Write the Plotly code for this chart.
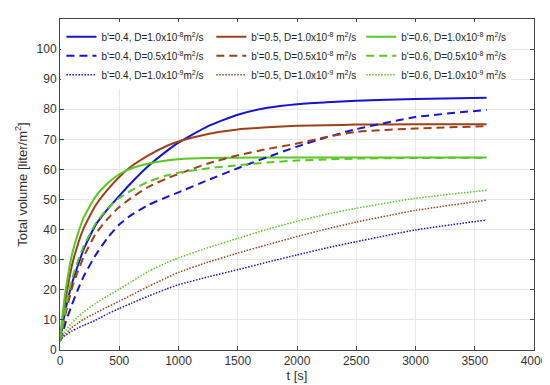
import plotly.graph_objects as go

t = [0, 25, 50, 100, 150, 200, 300, 400, 500, 600, 750, 900, 1000,
     1250, 1500, 1750, 2000, 2250, 2500, 3000, 3600]

# b'=0.4
v04_d1e8 = [3, 9, 14, 22, 28, 33.5, 41.5, 46.7, 51.2, 55.5, 61.3, 66.1, 68.9,
            74.4, 78.2, 80.5, 81.7, 82.3, 82.8, 83.4, 83.8]
v04_d05e8 = [3, 6, 9.5, 15, 20, 24.5, 31.5, 37.2, 41.7, 44.8, 48.3, 50.8, 52.4,
             56.5, 60.4, 64.1, 67.6, 70.7, 73.4, 77.4, 79.8]
v04_d1e9 = [3, 4.3, 5, 6.3, 7.3, 8.2, 9.9, 12, 13.8, 15.5, 18, 20.3, 21.7,
            24.3, 26.7, 29.2, 31.6, 33.9, 36, 39.9, 43.2]
# b'=0.5
v05_d1e8 = [3, 11, 17.5, 28, 35, 40.5, 48, 53.2, 57.5, 61, 64.8, 67.8, 69.3,
            71.8, 73.3, 74.0, 74.5, 74.7, 74.9, 75, 75]
v05_d05e8 = [3, 8, 12.5, 20.5, 26, 31, 38.5, 43.5, 47.5, 50.5, 54.3, 57, 58.5,
             62, 64.7, 66.8, 68.6, 70.8, 72.5, 73.6, 74.4]
v05_d1e9 = [3, 4.6, 5.5, 7.5, 8.9, 10.2, 12.3, 14.3, 16.2, 18.2, 21.2, 24, 25.8,
            29.2, 32.2, 35.0, 37.7, 40.2, 42.5, 46.4, 49.8]
# b'=0.6
v06_d1e8 = [3, 13, 20.5, 31.5, 38.5, 44, 51, 55.3, 58.4, 60.3, 62, 63, 63.4,
            63.8, 63.9, 64, 64, 64, 64, 64, 64]
v06_d05e8 = [3, 9, 14.5, 23.5, 29.5, 34.5, 42, 47, 50.5, 53, 56, 58, 58.9,
             60.4, 61.4, 62.3, 63, 63.3, 63.6, 63.8, 63.9]
v06_d1e9 = [3, 5, 6.5, 9, 11, 12.7, 15.5, 17.9, 20.2, 22.6, 26.2, 29, 30.6,
            34, 37.1, 40.1, 42.8, 45.1, 47.1, 50.4, 53.1]

names = {
    "04_1": "b'=0.4, D=1.0x10<sup>-8</sup>m<sup>2</sup>/s",
    "05_1": "b'=0.5, D=1.0x10<sup>-8</sup> m<sup>2</sup>/s",
    "06_1": "b'=0.6, D=1.0x10<sup>-8</sup> m<sup>2</sup>/s",
    "04_2": "b'=0.4, D=0.5x10<sup>-8</sup>m<sup>2</sup>/s",
    "05_2": "b'=0.5, D=0.5x10<sup>-8</sup> m<sup>2</sup>/s",
    "06_2": "b'=0.6, D=0.5x10<sup>-8</sup> m<sup>2</sup>/s",
    "04_3": "b'=0.4, D=1.0x10<sup>-9</sup>m<sup>2</sup>/s",
    "05_3": "b'=0.5, D=1.0x10<sup>-9</sup> m<sup>2</sup>/s",
    "06_3": "b'=0.6, D=1.0x10<sup>-9</sup> m<sup>2</sup>/s",
}

BLUE = "#1414d2"
BROWN = "#9e4018"
GREEN = "#58c823"

series = [
    ("04_1", v04_d1e8, BLUE, "solid", 2),
    ("05_1", v05_d1e8, BROWN, "solid", 2),
    ("06_1", v06_d1e8, GREEN, "solid", 2),
    ("04_2", v04_d05e8, BLUE, "8px,5px", 2),
    ("05_2", v05_d05e8, BROWN, "8px,5px", 2),
    ("06_2", v06_d05e8, GREEN, "8px,5px", 2),
    ("04_3", v04_d1e9, BLUE, "1.5px,1.5px", 1.5),
    ("05_3", v05_d1e9, BROWN, "1.5px,1.5px", 1.5),
    ("06_3", v06_d1e9, GREEN, "1.5px,1.5px", 1.5),
]

fig = go.Figure()
for key, vals, col, dash, w in series:
    fig.add_trace(go.Scatter(
        x=t, y=vals, mode="lines", name=names[key],
        line=dict(color=col, dash=dash, width=w, shape="spline", smoothing=0.5),
    ))

FONT = "Liberation Sans, Arial, sans-serif"
axis_common = dict(
    showgrid=True, gridcolor="#e8e8e8", gridwidth=1,
    showline=True, linecolor="#444444", linewidth=1, mirror="ticks",
    ticks="inside", ticklen=4, tickcolor="#444444",
    zeroline=False,
    tickfont=dict(family=FONT, size=12, color="#333333"),
)

fig.update_xaxes(range=[0, 4000], dtick=500, tick0=0,
                 title=dict(text="t [s]", standoff=0,
                            font=dict(family=FONT, size=13, color="#333333")),
                 **axis_common)
fig.update_yaxes(range=[0, 110], tickvals=list(range(0, 101, 10)),
                 title=dict(text="Total volume [liter/m<sup>2</sup>]", standoff=6,
                            font=dict(family=FONT, size=13, color="#333333")),
                 **axis_common)

fig.update_layout(
    width=550, height=385,
    margin=dict(l=52, r=18, t=10, b=43),
    paper_bgcolor="white", plot_bgcolor="white",
    showlegend=True,
    legend=dict(
        orientation="h", x=0.003, y=0.99, xanchor="left", yanchor="top",
        bgcolor="white", borderwidth=0,
        itemwidth=30, tracegroupgap=0,
        font=dict(family=FONT, size=10, color="#222222"),
    ),
)

fig.write_html("out.html")
